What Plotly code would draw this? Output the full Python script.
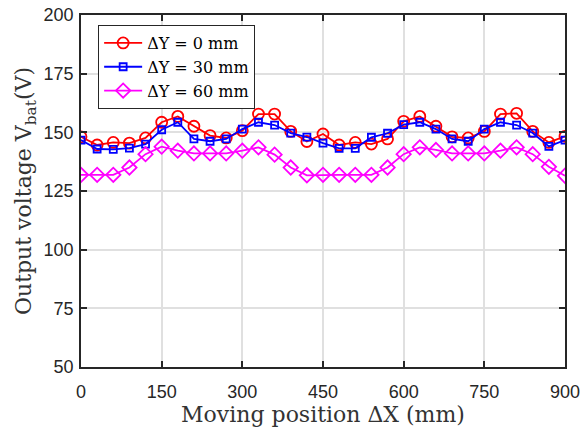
import plotly.graph_objects as go

x_mm = list(range(0, 901, 30))
v_dy0 = [148.1, 144.6, 145.7, 145.4, 147.6, 154.3, 156.8, 152.6, 148.6, 147.6,
         150.7, 157.8, 157.8, 150.4, 146.1, 149.3, 144.6, 145.7, 145.0, 147.2,
         154.7, 156.8, 152.6, 148.1, 147.6, 150.4, 157.8, 158.1, 150.4, 145.7, 148.3]
v_dy30 = [146.7, 142.9, 142.7, 143.3, 145.0, 151.1, 154.3, 147.2, 146.2, 147.2,
          151.4, 154.3, 153.1, 149.7, 148.0, 145.4, 143.2, 143.2, 147.9, 149.6,
          153.3, 154.3, 151.4, 147.2, 146.2, 151.4, 154.3, 153.1, 149.7, 144.0, 146.7]
v_dy60 = [131.9, 131.9, 131.9, 135.0, 140.7, 143.9, 142.2, 141.0, 141.0, 141.0,
          142.2, 143.6, 140.5, 135.0, 131.7, 131.9, 131.9, 131.9, 131.9, 135.0,
          140.7, 143.6, 142.5, 141.0, 141.0, 141.0, 142.2, 143.6, 140.7, 135.3, 131.5]
series_names = ["ΔY = 0 mm", "ΔY = 30 mm", "ΔY = 60 mm"]
x_ticks = [0, 150, 300, 450, 600, 750, 900]
y_ticks = [50, 75, 100, 125, 150, 175, 200]

serif = "DejaVu Serif"
sans = "Liberation Sans"

fig = go.Figure()
styles = [
    ("#FF0000", "circle-open", 11),
    ("#0000FF", "square-open", 7),
    ("#FF00FF", "diamond-open", 11),
]
for name, vals, (col, sym, sz) in zip(series_names, [v_dy0, v_dy30, v_dy60], styles):
    fig.add_trace(go.Scatter(
        x=x_mm, y=vals, name=name, mode="lines+markers",
        line=dict(color=col, width=1.8),
        marker=dict(symbol=sym, size=sz, color=col, line=dict(width=1.8, color=col)),
    ))

axis_common = dict(
    showline=True, linecolor="#262626", linewidth=1.5, mirror="ticks",
    ticks="inside", ticklen=6, tickcolor="#262626", tickwidth=1.5,
    showgrid=True, gridcolor="#E0E0E0", gridwidth=1.5, zeroline=False,
    tickfont=dict(family=sans, size=18, color="#262626"), automargin=False,
)
fig.update_xaxes(range=[0, 900], tickvals=x_ticks, ticklabelstandoff=8,
                 title=dict(text="Moving position ΔX (mm)", font=dict(family=serif, size=22, color="#333333"), standoff=0),
                 **axis_common)
fig.update_yaxes(range=[50, 200], tickvals=y_ticks, ticklabelstandoff=2,
                 title=dict(text="Output voltage V<sub>bat</sub>(V)", font=dict(family=serif, size=22, color="#333333"), standoff=6),
                 **axis_common)

fig.update_layout(
    width=583, height=434,
    margin=dict(l=81, r=18, t=15, b=67),
    plot_bgcolor="white", paper_bgcolor="white",
    legend=dict(x=0.035, y=0.972, xanchor="left", yanchor="top",
                bgcolor="white", bordercolor="#262626", borderwidth=1.2,
                font=dict(family=serif, size=16, color="black"),
                tracegroupgap=0, itemwidth=38),
    showlegend=True,
)
fig.write_html("out.html")
